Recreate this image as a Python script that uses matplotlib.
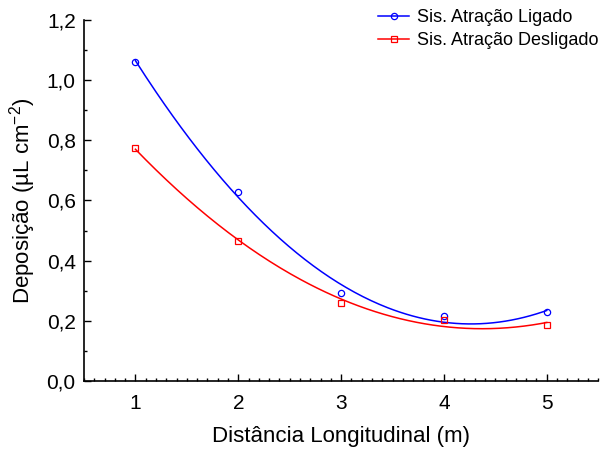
import matplotlib
matplotlib.use("Agg")
import matplotlib.pyplot as plt
from matplotlib.ticker import MultipleLocator, FuncFormatter
import numpy as np

plt.rcParams['font.family'] = ['Liberation Sans', 'DejaVu Sans']

distancia = [1, 2, 3, 4, 5]
ligado = [1.06, 0.628, 0.292, 0.216, 0.229]
desligado = [0.774, 0.465, 0.259, 0.203, 0.186]

fig = plt.figure(figsize=(6.11, 4.51), dpi=100)
ax = fig.add_axes([0.1375, 0.155, 0.8415, 0.8013])

xs = np.linspace(1, 5, 200)
for vals, color, marker, label in [(ligado, 'blue', 'o', 'Sis. Atração Ligado'),
                                   (desligado, 'red', 's', 'Sis. Atração Desligado')]:
    coef = np.polyfit(distancia, vals, 2)
    ax.plot(xs, np.polyval(coef, xs), color=color, lw=1.1)
    ax.plot(distancia, vals, linestyle='none', marker=marker, ms=4.5,
            mfc='none', mec=color, mew=0.9)
    # legend proxy
    ax.plot([], [], color=color, lw=1.1, marker=marker, ms=4.5, mfc='none',
            mec=color, mew=0.9, label=label)

ax.set_xlim(0.5, 5.5)
ax.set_ylim(0, 1.2)
ax.xaxis.set_major_locator(MultipleLocator(1))
ax.xaxis.set_minor_locator(MultipleLocator(0.1))
ax.yaxis.set_major_locator(MultipleLocator(0.2))
ax.yaxis.set_minor_locator(MultipleLocator(0.1))
ax.yaxis.set_major_formatter(FuncFormatter(lambda v, p: f"{v:.1f}".replace('.', ',')))
ax.tick_params(which='both', direction='in', labelsize=15, width=1)
ax.tick_params(which='major', length=5)
ax.tick_params(which='minor', length=2.5)
ax.tick_params(axis='x', which='major', pad=9)
ax.tick_params(axis='y', which='major', pad=6)

for s in ['top', 'right']:
    ax.spines[s].set_visible(False)
for s in ['left', 'bottom']:
    ax.spines[s].set_linewidth(1.2)

ax.set_xlabel('Distância Longitudinal (m)', fontsize=16, labelpad=10)
ax.set_ylabel('Deposição (µL cm$^{\\mathregular{-2}}$)', fontsize=16, labelpad=6)

handles, labels = ax.get_legend_handles_labels()
ax.legend(handles[-2:], labels[-2:], loc='upper right', bbox_to_anchor=(1.015, 1.05),
          frameon=False, fontsize=13, handlelength=1.7, handletextpad=0.45,
          labelspacing=0.35, borderaxespad=0)

fig.savefig('out.png', dpi=100)
